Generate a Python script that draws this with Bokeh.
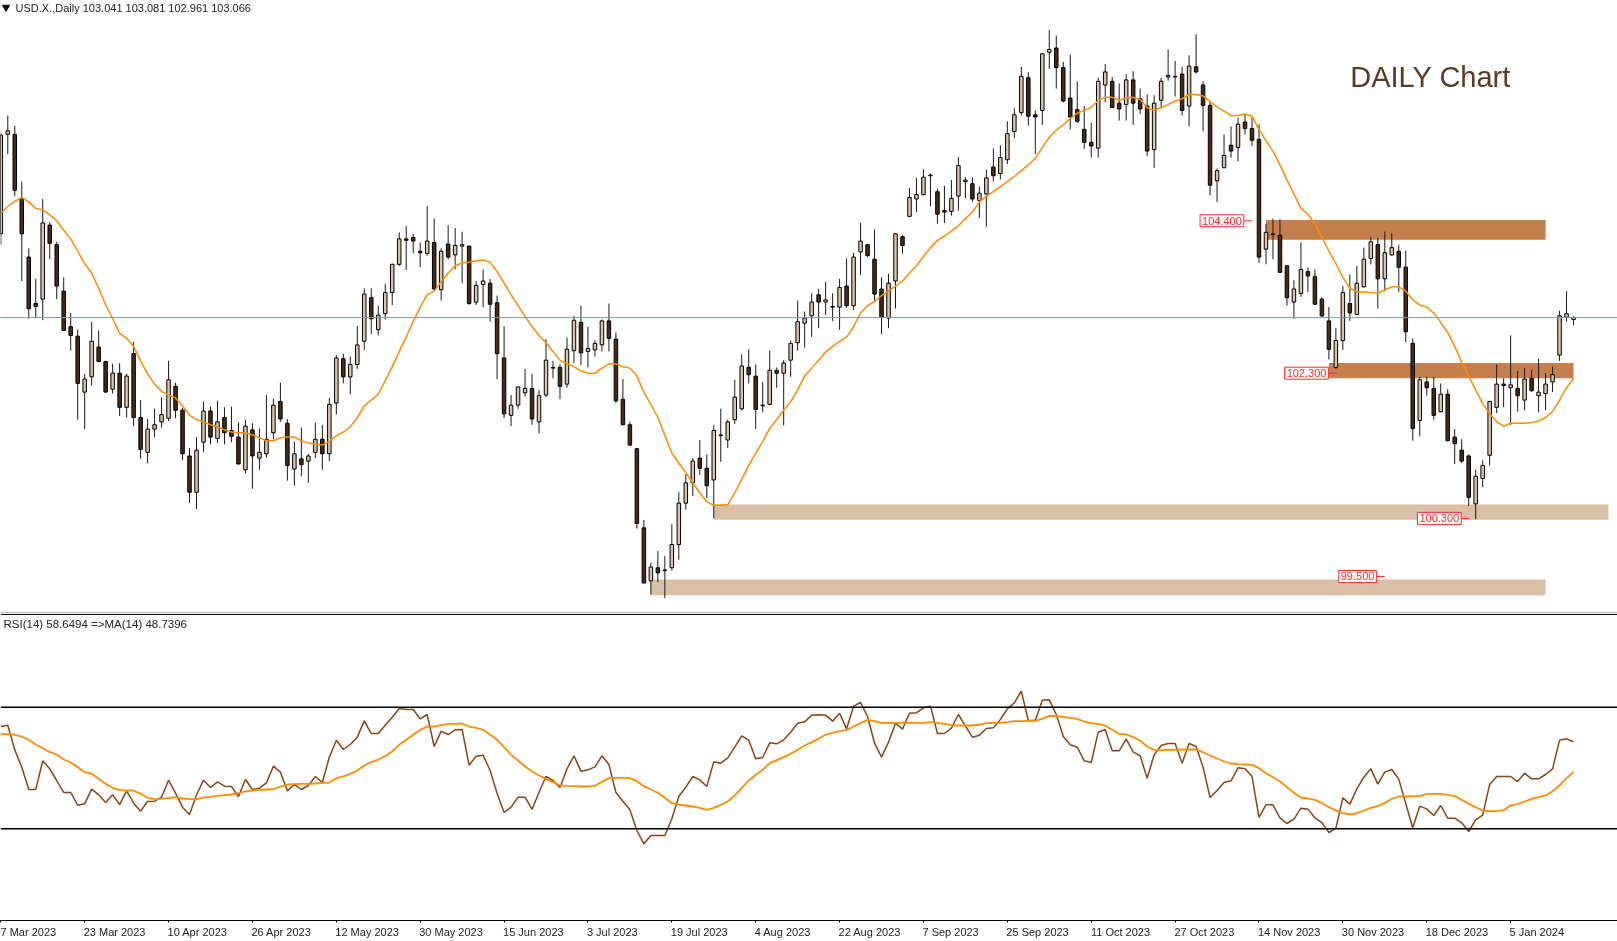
from bokeh.plotting import figure
from bokeh.layouts import column
from bokeh.models import Range1d, Label, Span, LinearAxis, FixedTicker
from bokeh.embed import file_html
from bokeh.resources import INLINE

opens = [104.22,105.59,105.59,104.71,103.90,103.26,103.32,104.34,104.07,103.43,
102.94,102.81,102.04,102.25,102.66,102.46,102.08,102.30,101.83,102.57,
101.69,101.21,101.53,101.63,101.68,102.12,101.79,101.16,100.66,101.35,
101.78,101.40,101.69,101.51,101.42,100.97,101.52,101.13,101.19,101.48,
101.91,101.61,100.98,101.12,101.09,101.21,101.39,101.19,101.89,102.50,
102.25,102.42,102.74,103.34,102.90,103.12,103.41,103.80,104.15,104.17,
103.98,103.95,104.10,103.45,104.08,103.93,104.05,104.05,103.28,103.52,
103.54,103.27,102.51,101.72,101.86,102.03,102.09,101.63,102.00,102.37,
102.38,102.15,102.61,103.00,102.60,102.62,102.69,103.02,102.77,101.94,
101.59,101.26,100.17,99.44,99.62,99.58,99.62,99.94,100.51,100.79,
101.13,100.99,100.83,101.44,101.38,101.66,101.81,102.38,102.26,101.85,
101.87,102.34,102.30,102.48,102.72,102.99,103.09,103.38,103.28,103.21,
103.21,103.50,103.23,103.97,104.07,103.87,103.46,103.06,103.57,104.18,
104.46,104.70,104.76,105.02,104.80,104.54,104.53,104.74,104.94,104.91,
104.68,104.77,105.14,105.05,105.24,105.63,105.89,106.37,105.86,105.92,
106.72,106.78,106.51,106.09,105.93,105.66,105.48,105.40,106.27,106.32,
106.02,106.00,106.34,106.08,105.98,105.38,106.06,106.38,106.38,106.42,
105.98,106.52,106.27,105.99,104.95,105.13,105.44,105.41,105.76,105.67,
105.52,104.01,104.21,104.20,103.78,103.28,103.40,103.70,103.63,103.32,
103.02,102.38,102.75,103.26,103.11,103.49,103.88,104.07,103.60,103.93,
103.98,103.76,102.71,101.65,102.18,102.09,101.77,102.01,101.42,101.24,
101.16,100.50,100.85,101.17,101.83,102.15,102.10,102.09,101.93,102.23,
101.99,102.02,102.18,102.55,103.07,103.04]

closes = [105.58,105.64,104.82,104.22,103.19,103.22,104.37,104.09,103.50,102.89,
102.82,102.16,102.22,102.74,102.46,102.04,102.30,101.83,102.26,101.69,
101.25,101.53,101.59,101.73,102.21,101.79,101.19,100.66,101.24,101.78,
101.42,101.63,101.48,101.43,101.05,101.57,101.16,101.21,101.39,101.86,
101.67,101.03,101.19,101.04,101.16,101.39,101.19,101.87,102.51,102.25,
102.42,102.69,103.39,103.05,103.10,103.41,103.80,104.15,104.13,104.12,
103.96,104.12,103.46,103.98,103.90,104.06,104.07,103.26,103.51,103.57,
103.25,102.57,101.74,101.86,102.11,102.09,101.67,101.99,102.48,102.38,
102.12,102.63,103.03,102.58,102.64,102.71,103.02,102.78,101.92,101.59,
101.31,100.23,99.41,99.63,99.55,99.59,99.94,100.51,100.79,101.09,
100.99,100.75,101.51,101.45,101.63,101.97,102.40,102.28,101.80,101.86,
102.34,102.30,102.44,102.71,103.01,103.06,103.28,103.28,103.31,103.22,
103.48,103.23,103.90,104.12,103.92,103.39,103.07,103.54,104.22,104.06,
104.72,104.76,105.00,105.03,104.49,104.52,104.71,105.16,104.96,104.70,
104.78,104.99,105.02,105.27,105.60,105.86,106.39,105.84,105.83,106.70,
106.76,106.51,106.05,105.83,105.77,105.48,105.43,106.32,106.45,105.96,
105.94,106.34,106.02,105.94,105.36,106.02,106.32,106.40,106.39,105.92,
106.53,106.45,105.99,104.89,105.09,105.30,105.36,105.73,105.67,105.51,
103.90,104.24,104.22,103.69,103.34,103.46,103.73,103.64,103.25,103.09,
102.63,102.75,103.41,103.13,103.54,103.87,104.11,103.60,103.96,104.03,
103.76,102.87,101.54,102.21,102.10,101.72,102.01,101.37,101.33,101.09,
100.59,100.88,101.03,101.91,102.15,102.13,102.14,101.99,102.22,102.06,
102.04,102.15,102.28,103.09,103.12,103.07]

highs = [105.61,105.85,105.71,104.94,104.02,103.60,104.70,104.38,104.11,103.62,
103.13,102.90,102.29,103.01,102.89,102.47,102.43,102.44,102.29,102.73,
101.93,101.67,101.81,101.97,102.47,102.17,101.82,101.27,101.42,101.91,
101.84,101.92,101.83,101.84,101.62,101.66,101.61,101.54,102.00,101.95,
102.17,101.67,101.36,101.55,101.19,101.62,101.59,101.96,102.55,102.57,
102.53,102.95,103.47,103.47,103.23,103.53,103.81,104.24,104.33,104.22,
104.10,104.60,104.43,104.02,104.34,104.30,104.25,104.06,103.57,103.73,
103.60,103.37,102.95,102.00,102.12,102.36,102.29,102.07,102.77,102.47,
102.42,102.79,103.09,103.23,102.94,102.75,103.04,103.26,102.86,102.22,
101.63,101.27,100.28,99.69,99.85,99.78,100.22,100.66,100.91,101.13,
101.38,101.18,101.59,101.81,101.66,102.21,102.56,102.63,102.42,102.18,
102.61,102.38,102.48,102.75,103.30,103.15,103.40,103.46,103.56,103.40,
103.60,103.88,103.96,104.37,104.08,104.28,103.62,103.67,104.23,104.20,
104.85,104.99,105.11,105.05,104.84,104.88,104.96,105.28,105.00,105.00,
104.87,105.10,105.40,105.44,105.77,105.95,106.52,106.45,105.92,106.71,
107.03,106.95,106.59,106.69,106.32,105.98,105.75,106.37,106.56,106.38,
106.29,106.42,106.46,106.22,106.14,106.13,106.37,106.76,106.60,106.52,
106.68,106.97,106.32,106.05,105.12,105.59,105.70,105.82,105.87,105.82,
105.73,104.36,104.43,104.42,103.78,103.58,104.10,103.76,103.73,103.35,
103.21,102.92,103.50,103.66,103.78,104.03,104.18,104.16,104.25,104.23,
104.07,103.99,102.78,102.25,102.25,102.25,102.16,102.08,101.53,101.39,
101.18,100.97,101.10,101.92,102.42,102.23,102.82,102.33,102.37,102.35,
102.50,102.30,102.39,103.16,103.43,103.08]

lows = [104.07,105.32,104.74,103.57,103.05,103.06,103.03,103.87,103.32,102.89,
102.61,101.66,101.53,102.13,102.46,102.03,102.02,101.71,101.69,101.57,
101.12,101.06,101.42,101.55,101.64,101.68,101.10,100.51,100.43,101.21,
101.32,101.34,101.32,101.35,101.04,100.92,100.71,100.97,101.14,101.39,
101.63,100.82,100.75,100.88,100.79,101.13,100.97,101.09,101.73,102.16,
102.01,102.36,102.62,102.84,102.82,103.04,103.24,103.78,103.72,103.95,
103.76,103.92,103.44,103.30,103.87,103.73,103.54,103.24,103.24,103.21,
103.01,102.22,101.68,101.57,101.81,101.98,101.59,101.47,101.97,102.23,
101.94,102.10,102.44,102.41,102.38,102.53,102.60,102.60,101.89,101.59,
101.30,100.16,99.41,99.25,99.42,99.20,99.58,99.73,100.42,100.61,
100.90,100.58,100.30,101.08,101.27,101.60,101.79,102.16,101.53,101.76,
101.86,102.10,101.58,102.25,102.61,102.65,102.80,102.92,103.10,103.02,
102.90,103.20,103.17,103.65,103.90,103.29,102.84,102.92,103.19,103.95,
104.45,104.52,104.75,104.60,104.36,104.37,104.47,104.54,104.71,104.66,
104.44,104.32,104.94,104.97,105.18,105.54,105.85,105.71,105.32,105.72,
106.49,106.22,106.03,105.66,105.75,105.39,105.27,105.27,106.03,105.95,
105.78,105.78,105.72,105.87,105.29,105.13,105.95,106.33,106.11,105.85,
105.70,106.43,105.63,104.75,104.66,105.13,105.27,105.22,105.59,105.43,
103.82,103.80,103.87,103.68,103.23,103.05,103.35,103.42,103.24,103.07,
102.49,102.36,102.62,103.02,103.10,103.48,103.80,103.19,103.43,103.92,
103.42,102.73,101.37,101.43,101.99,101.66,101.76,101.37,101.05,101.06,
100.47,100.29,100.73,101.03,101.75,101.83,101.59,101.77,101.79,102.04,
101.76,101.79,102.04,102.47,103.01,102.96]

price_ma = [104.50,104.60,104.67,104.72,104.66,104.57,104.55,104.48,104.40,104.27,
104.15,103.98,103.81,103.68,103.47,103.24,103.05,102.85,102.78,102.67,
102.47,102.29,102.15,102.05,102.00,101.96,101.85,101.72,101.66,101.63,
101.59,101.56,101.52,101.49,101.48,101.48,101.45,101.41,101.37,101.37,
101.41,101.42,101.42,101.37,101.34,101.32,101.31,101.36,101.44,101.49,
101.56,101.69,101.85,101.93,102.01,102.20,102.39,102.60,102.80,103.01,
103.21,103.38,103.43,103.56,103.68,103.78,103.82,103.83,103.85,103.86,
103.83,103.70,103.54,103.38,103.23,103.08,102.94,102.82,102.72,102.60,
102.48,102.43,102.39,102.33,102.30,102.30,102.37,102.43,102.43,102.39,
102.37,102.26,102.04,101.87,101.69,101.44,101.20,101.06,100.93,100.79,
100.65,100.53,100.48,100.48,100.49,100.65,100.84,101.03,101.20,101.36,
101.54,101.66,101.79,101.91,102.07,102.26,102.37,102.48,102.59,102.67,
102.74,102.80,102.94,103.13,103.23,103.29,103.37,103.43,103.50,103.57,
103.68,103.78,103.91,104.03,104.13,104.19,104.26,104.33,104.43,104.52,
104.66,104.74,104.80,104.87,104.94,105.01,105.09,105.17,105.26,105.41,
105.55,105.65,105.72,105.81,105.88,105.92,105.96,106.06,106.10,106.10,
106.06,106.09,106.10,106.07,105.96,105.92,105.96,106.00,106.05,106.08,
106.14,106.14,106.12,106.04,105.97,105.91,105.85,105.85,105.87,105.84,
105.66,105.50,105.36,105.17,104.96,104.77,104.57,104.49,104.36,104.17,
103.98,103.81,103.62,103.47,103.42,103.42,103.41,103.40,103.45,103.49,
103.49,103.43,103.31,103.24,103.21,103.13,103.00,102.86,102.67,102.45,
102.26,102.07,101.88,101.74,101.63,101.57,101.61,101.61,101.61,101.62,
101.64,101.69,101.77,101.93,102.10,102.23]

rsi = [63.64,64.08,55.97,50.27,42.93,42.93,52.36,49.72,45.89,41.95,
41.95,37.78,38.22,43.04,41.18,38.66,41.18,37.98,42.49,38.44,
35.81,38.99,39.10,40.41,46.00,41.73,37.12,34.71,41.18,46.00,
43.59,45.45,44.03,43.92,40.63,46.22,42.93,43.37,45.12,50.60,
48.63,42.49,44.57,42.93,44.25,47.21,45.23,53.56,59.15,56.08,
57.73,60.14,65.51,61.34,61.34,64.08,66.71,69.56,69.23,69.23,
66.16,67.59,57.07,62.11,61.01,62.55,62.66,50.93,53.89,54.22,
49.18,41.73,35.37,37.12,40.41,40.41,36.36,42.05,47.21,45.89,
43.59,49.72,54.00,48.96,49.40,50.38,54.00,51.15,41.95,39.09,
36.25,29.45,25.07,27.81,27.81,27.81,33.29,40.63,43.70,47.21,
46.11,43.92,52.03,51.59,53.34,56.85,60.57,59.15,53.01,53.45,
58.27,57.94,59.26,61.78,64.74,65.18,67.37,67.48,67.37,65.40,
68.03,62.88,70.33,71.53,66.93,58.16,53.56,58.49,64.74,62.77,
68.03,68.14,69.78,70.33,61.34,61.34,63.09,67.59,63.75,60.14,
60.79,62.99,63.20,65.94,69.45,71.42,75.26,65.62,65.62,72.30,
72.41,67.59,60.36,57.62,56.85,52.36,51.81,61.78,62.66,55.64,
55.64,59.48,55.31,54.00,46.66,54.33,57.40,58.05,58.05,51.59,
58.05,57.07,50.27,40.30,42.60,45.23,45.78,50.05,49.72,47.31,
33.73,37.89,37.89,33.62,31.75,33.18,36.80,36.47,33.62,32.08,
28.79,30.22,40.19,38.11,43.15,46.99,49.72,44.68,48.63,49.51,
46.33,38.22,30.33,37.45,36.57,34.38,37.67,33.51,33.51,31.97,
29.12,32.96,34.49,44.57,47.21,47.21,47.21,45.56,48.30,46.44,
46.44,47.86,49.72,59.15,59.59,58.65]

rsi_ma = [61.12,61.12,60.90,60.35,59.26,57.72,56.52,55.20,54.44,52.79,
51.81,50.27,48.63,48.08,46.44,44.79,43.48,42.71,42.60,42.60,
41.51,40.19,39.75,39.86,40.08,40.41,39.97,39.75,39.75,40.30,
40.52,40.85,41.07,41.29,41.73,42.28,42.60,42.82,42.93,43.04,
43.92,44.57,44.68,44.79,44.79,44.90,45.12,45.23,46.66,47.21,
48.08,49.18,50.82,51.92,52.79,53.89,55.53,57.62,59.26,60.90,
62.55,63.64,63.64,64.08,64.52,64.52,64.63,63.64,63.20,62.55,
61.01,59.26,56.85,54.33,52.46,50.49,48.85,47.53,46.44,45.34,
44.24,44.13,44.03,43.92,43.92,44.13,45.45,46.66,46.77,46.77,
46.66,45.67,44.03,42.93,41.84,40.19,38.44,37.99,37.67,37.34,
36.90,36.25,36.90,37.89,38.98,40.96,43.48,45.89,47.75,49.40,
51.59,52.57,53.56,54.66,55.97,57.40,58.49,59.59,61.01,61.56,
62.11,62.44,63.64,64.74,65.84,65.40,64.85,64.85,64.74,64.85,
64.85,64.85,64.85,65.07,64.85,64.52,64.08,63.97,63.97,63.97,
64.30,64.74,64.85,64.85,65.07,65.40,65.40,65.51,65.51,66.16,
67.15,67.04,66.82,66.49,66.16,65.29,64.74,64.52,63.97,62.55,
61.23,61.01,60.13,59.04,57.07,55.97,55.86,55.97,55.97,56.08,
56.08,56.08,55.20,54.11,53.12,52.14,51.48,51.26,51.15,51.04,
49.94,48.30,46.99,45.56,43.70,41.84,40.30,39.97,39.53,38.44,
37.12,36.03,35.15,34.71,35.15,36.03,36.90,37.45,38.54,39.86,
40.63,40.63,40.74,40.74,41.51,41.51,41.51,41.18,40.74,39.53,
38.22,37.12,36.03,35.81,35.81,36.14,37.67,38.11,38.98,39.86,
40.41,40.96,42.38,44.25,46.66,48.74]

tick_bars = [0,12,24,36,48,60,72,84,96,108,120,132,144,156,168,180,192,204,216]
tick_labels = ["7 Mar 2023","23 Mar 2023","10 Apr 2023","26 Apr 2023","12 May 2023",
               "30 May 2023","15 Jun 2023","3 Jul 2023","19 Jul 2023","4 Aug 2023",
               "22 Aug 2023","7 Sep 2023","25 Sep 2023","11 Oct 2023","27 Oct 2023",
               "14 Nov 2023","30 Nov 2023","18 Dec 2023","5 Jan 2024"]

zone_left   = [102, 93, 181, 190]
zone_right  = [230, 221, 221, 225]
zone_top    = [100.49, 99.46, 104.41, 102.44]
zone_bottom = [100.28, 99.24, 104.14, 102.23]
zone_color  = ["#D8BFA5", "#D8BFA5", "#C47F4D", "#C47F4D"]

level_names = ["104.400", "102.300", "100.300", "99.500"]
level_price = [104.40, 102.30, 100.30, 99.50]
level_bar   = [174.7, 186.8, 205.8, 194.1]
level_from  = [177.7, 189.7, 208.8, 196.7]
level_to    = [179.0, 191.1, 210.1, 198.0]

x_range = (-0.043, 231.29)
BAR_PX = 6.99
BODY_LIGHT, BODY_DARK = "#DCC4A8", "#4A2A12"
UI_FONT = "Liberation Sans"
MONTH_EM = {"Jan":1.612,"Mar":1.722,"Apr":1.556,"May":1.889,"Jun":1.612,"Jul":1.278,
            "Aug":1.779,"Sep":1.779,"Oct":1.612,"Nov":1.778,"Dec":1.778}
xs = list(range(len(opens)))

def label_center(bar, text):
    # The axis centres its labels; the reference starts each one at its tick.
    day, month, year = text.split(" ")
    em = (len(day) + len(year)) * 0.556 + 0.556 + MONTH_EM[month]
    return round(bar + (em * 11 / 2 - 1) / BAR_PX, 3)

p1 = figure(width=1617, height=613, output_backend="svg", toolbar_location=None,
            x_range=Range1d(*x_range), y_range=Range1d(98.99, 107.434),
            x_axis_location=None, y_axis_location=None, min_border=0,
            outline_line_color=None, background_fill_color="white", border_fill_color="white")
p1.grid.visible = False
p1.quad(left=zone_left, right=zone_right, top=zone_top, bottom=zone_bottom,
        fill_color=zone_color, line_color=None)
p1.add_layout(Span(location=103.066, dimension="width", line_color="#8494A4", line_width=1))
p1.segment(xs, lows, xs, highs, line_color="#1A1A1A", line_width=1)
light = [i for i in xs if closes[i] >= opens[i]]
dark = [i for i in xs if closes[i] < opens[i]]
p1.vbar(x=light, width=0.5, top=[closes[i] for i in light], bottom=[opens[i] for i in light],
        fill_color=BODY_LIGHT, line_color="black", line_width=1)
p1.vbar(x=dark, width=0.5, top=[opens[i] for i in dark], bottom=[closes[i] for i in dark],
        fill_color=BODY_DARK, line_color="black", line_width=1)
p1.line(xs, price_ma, line_color="#FF8C00", line_width=1.5)
p1.segment(level_from, level_price, level_to, level_price, line_color="#FF2A2A", line_width=1)
for name, bar, price in zip(level_names, level_bar, level_price):
    p1.add_layout(Label(x=bar, y=price, text=name, text_color="#FF2A2A", text_font=UI_FONT,
                        text_font_size="11px", text_align="center", text_baseline="middle",
                        background_fill_color="white", border_line_color="#FF2A2A", border_line_width=1,
                        padding=2))
p1.add_layout(Label(x=1430, x_units="screen", y=537, y_units="screen", text="DAILY Chart",
                    text_font=UI_FONT, text_font_size="29px", text_color="#5A3A20",
                    text_align="center", text_baseline="middle"))
p1.add_layout(Label(x=15, x_units="screen", y=606, y_units="screen",
                    text="USD.X.,Daily  103.041 103.081 102.961 103.066",
                    text_font=UI_FONT, text_font_size="11px", text_color="#222222",
                    text_align="left", text_baseline="middle"))
p1.scatter([0.75], [107.34], marker="inverted_triangle", size=7, color="black")
p1.add_layout(Span(location=99.0, dimension="width", line_color="#9A9A9A", line_width=1))

p2 = figure(width=1617, height=328, output_backend="svg", toolbar_location=None,
            x_range=Range1d(*x_range), y_range=Range1d(-0.14, 100.80),
            x_axis_location=None, y_axis_location=None,
            min_border=0, min_border_bottom=21,
            outline_line_color=None, background_fill_color="white", border_fill_color="white")
p2.grid.visible = False
p2.add_layout(Span(location=100.47, dimension="width", line_color="black", line_width=1))
p2.add_layout(Span(location=70, dimension="width", line_color="black", line_width=1.5))
p2.add_layout(Span(location=30, dimension="width", line_color="black", line_width=1.5))
p2.line(xs, rsi, line_color="#8B4513", line_width=1.5)
p2.line(xs, rsi_ma, line_color="#FF8C00", line_width=1.8)
p2.add_layout(Label(x=3, x_units="screen", y=297, y_units="screen",
                    text="RSI(14) 58.6494  =>MA(14) 48.7396",
                    text_font=UI_FONT, text_font_size="11.5px", text_color="#222222",
                    text_align="left", text_baseline="middle"))
label_ticks = [label_center(b, t) for b, t in zip(tick_bars, tick_labels)]
axis = LinearAxis(ticker=FixedTicker(ticks=label_ticks, minor_ticks=tick_bars),
                  major_label_overrides=dict(zip(label_ticks, tick_labels)),
                  major_label_text_font=UI_FONT, major_label_text_font_size="11px",
                  major_label_text_color="#222222", major_label_standoff=3,
                  major_tick_line_color=None, major_tick_in=0, major_tick_out=0,
                  minor_tick_in=0, minor_tick_out=2, minor_tick_line_color="black",
                  axis_line_color="black")
p2.add_layout(axis, "below")

page = column(p1, p2, spacing=0, styles={"position": "fixed", "left": "0px", "top": "0px"})
open("out.html", "w").write(file_html(page, INLINE))
